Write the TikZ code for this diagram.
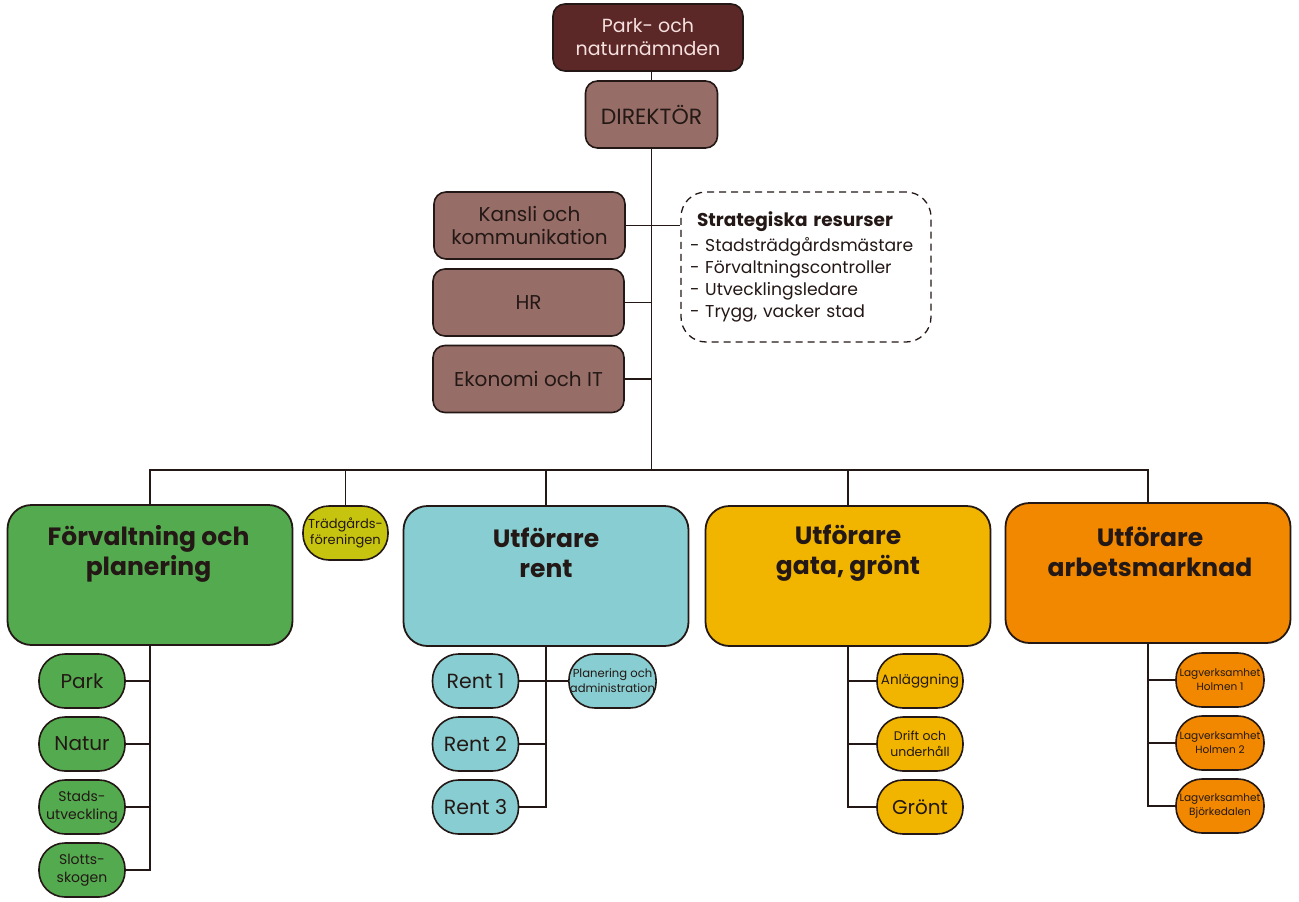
\documentclass[tikz,border=0pt]{standalone}
\usepackage{fontspec}
\setmainfont{Poppins}
\usetikzlibrary{positioning}

\definecolor{ink}{HTML}{231815}
\definecolor{naemnd}{HTML}{5C2727}
\definecolor{naemndtext}{HTML}{F5E1DF}
\definecolor{ledning}{HTML}{976D67}
\definecolor{forvgreen}{HTML}{54AB4F}
\definecolor{olive}{HTML}{C6C40F}
\definecolor{rentblue}{HTML}{88CDD1}
\definecolor{gatagold}{HTML}{F1B500}
\definecolor{arborange}{HTML}{F18800}

\begin{document}
\begin{tikzpicture}[x=1pt, y=-1pt, node distance=63pt]
%define
\tikzstyle{board} = [rectangle, rounded corners=12pt, minimum width=190pt, minimum height=67pt, align=center, draw=ink, line width=1.6pt, text=ink, font=\fontsize{20}{23}\selectfont]
\tikzstyle{bigbox} = [rectangle, rounded corners=24pt, minimum width=285pt, minimum height=140pt, draw=ink, line width=1.8pt]
\tikzstyle{headtext} = [align=center, text=ink, font=\bfseries\fontsize{25}{30}\selectfont]
\tikzstyle{unit} = [rectangle, rounded corners=26pt, minimum width=86pt, minimum height=54pt, inner sep=1pt, align=center, draw=ink, line width=1.6pt, text=ink]
\tikzstyle{line} = [draw=ink, line width=1.8pt]

\useasboundingbox (0,0) rectangle (1299,902);

% top of the tree
\node[board, fill=naemnd, text=naemndtext, font=\fontsize{19}{23}\selectfont] at (648,37.5) (naemnd){Park- och\\naturnämnden};
\node[board, fill=ledning, minimum width=132pt, font=\fontsize{22}{26}\selectfont] at (651.5,114.5) (direktor){DIREKTÖR};

\node[board, fill=ledning, minimum width=191pt] at (529.5,225.5) (kansli){Kansli och\\kommunikation};
\node[board, fill=ledning, minimum width=191pt] at (528.5,302.5) (hr){HR};
\node[board, fill=ledning, minimum width=191pt] at (528.5,379) (ekonomi){Ekonomi och IT};

\node[rectangle, rounded corners=25pt, dash pattern=on 7pt off 5pt, draw=ink, line width=1.3pt, minimum width=250pt, minimum height=150pt, text width=232pt, align=left, text=ink, font=\fontsize{17.2}{22}\selectfont] at (806,267) (strategi){\hspace*{7pt}{\bfseries\fontsize{18.5}{22}\selectfont Strategiska resurser}\\[3pt]- Stadsträdgårdsmästare\\- Förvaltningscontroller\\- Utvecklingsledare\\- Trygg, vacker stad};

\coordinate (bus) at (651.5,470);

% the four units and the garden society
\node[bigbox, fill=forvgreen] at (150,575) (forv){};
\node[headtext] at (148.5,554) (forv_txt){Förvaltning och\\planering};
\node[unit, fill=olive, minimum width=85pt, font=\fontsize{13}{16}\selectfont] at (345.5,533) (tradg){Trädgårds-\\föreningen};
\node[bigbox, fill=rentblue] at (546,576) (rent){};
\node[headtext] at (546,553) (rent_txt){Utförare\\rent};
\node[bigbox, fill=gatagold] at (848,576) (gata){};
\node[headtext] at (848,553) (gata_txt){Utförare\\gata, grönt};
\node[bigbox, fill=arborange] at (1148,573) (arb){};
\node[headtext] at (1150,552) (arb_txt){Utförare\\arbetsmarknad};

% Förvaltning och planering
\node[unit, fill=forvgreen, font=\fontsize{20}{24}\selectfont] at (82,681) (park){Park};
\node[unit, fill=forvgreen, font=\fontsize{20}{24}\selectfont, below of = park] (natur){Natur};
\node[unit, fill=forvgreen, font=\fontsize{14}{18}\selectfont, below of = natur] (stads){Stads-\\utveckling};
\node[unit, fill=forvgreen, font=\fontsize{14}{18}\selectfont, below of = stads] (slotts){Slotts-\\skogen};

% Utförare rent
\node[unit, fill=rentblue, font=\fontsize{20.5}{24}\selectfont] at (475.5,681) (rent_1){Rent 1};
\node[unit, fill=rentblue, font=\fontsize{20.5}{24}\selectfont, below of = rent_1] (rent_2){Rent 2};
\node[unit, fill=rentblue, font=\fontsize{20.5}{24}\selectfont, below of = rent_2] (rent_3){Rent 3};
\node[unit, fill=rentblue, minimum width=87pt, font=\fontsize{11.6}{15}\selectfont] at (612.5,681) (plan){Planering och\\administration};

% Utförare gata, grönt
\node[unit, fill=gatagold, font=\fontsize{13.5}{17}\selectfont] at (920,681) (anl){Anläggning};
\node[unit, fill=gatagold, font=\fontsize{12.5}{16}\selectfont, below of = anl] (drift){Drift och\\underhåll};
\node[unit, fill=gatagold, font=\fontsize{20}{24}\selectfont, below of = drift] (gront){Grönt};

% Utförare arbetsmarknad
\node[unit, fill=arborange, minimum width=88pt, font=\fontsize{10.5}{14}\selectfont] at (1220,680) (lag_1){Lagverksamhet\\Holmen 1};
\node[unit, fill=arborange, minimum width=88pt, font=\fontsize{10.5}{14}\selectfont, below of = lag_1] (lag_2){Lagverksamhet\\Holmen 2};
\node[unit, fill=arborange, minimum width=88pt, font=\fontsize{10.5}{14}\selectfont, below of = lag_2] (lag_3){Lagverksamhet\\Björkedalen};

% connectors
\draw[line](direktor.north) -- (direktor.north |- naemnd.south);
\draw[line](direktor) -- (bus);
\draw[line](kansli.east) -- (strategi.west |- kansli.east);
\draw[line](hr.east) -- (hr.east -| bus);
\draw[line](ekonomi.east) -- (ekonomi.east -| bus);
\draw[line](forv.north) |- (bus) -| (arb.north);
\draw[line](tradg.north) -- (tradg.north |- bus);
\draw[line](rent.north) -- (rent.north |- bus);
\draw[line](gata.north) -- (gata.north |- bus);

\foreach \c in {park, natur, stads, slotts}
  \draw[line](forv.south) |- (\c.east);
\foreach \c in {rent_2, rent_3}
  \draw[line](rent.south) |- (\c.east);
\draw[line](rent_1.east) -- (plan.west);
\foreach \c in {anl, drift, gront}
  \draw[line](gata.south) |- (\c.west);
\foreach \c in {lag_1, lag_2, lag_3}
  \draw[line](arb.south) |- (\c.west);

\end{tikzpicture}
\end{document}
